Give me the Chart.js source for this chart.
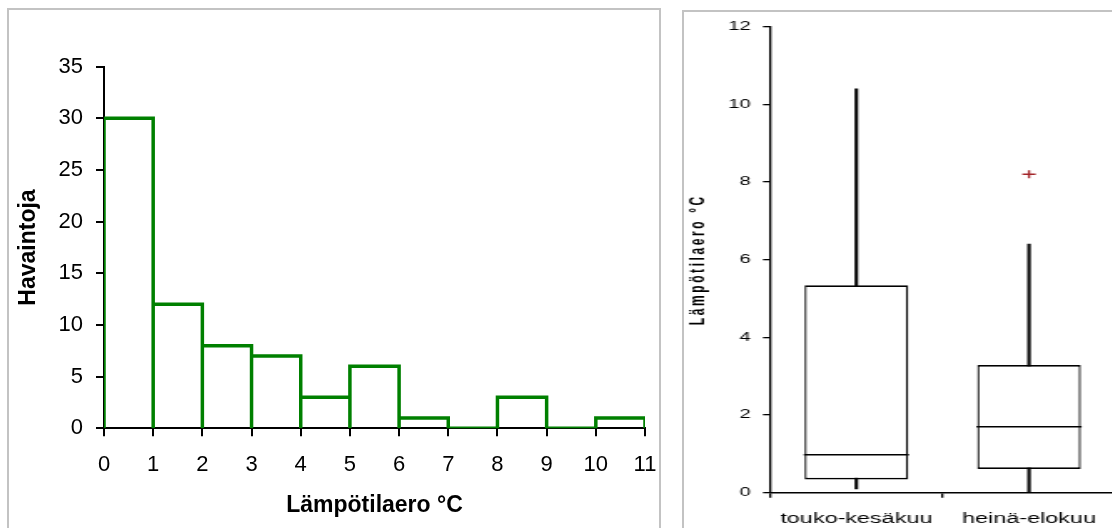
<!DOCTYPE html>
<html>
<head>
<meta charset="utf-8">
<script src="https://cdn.jsdelivr.net/npm/chart.js@4.4.0/dist/chart.umd.min.js"></script>
<style>
    html, body { margin: 0; padding: 0; background: #fff; }
    body { width: 1112px; height: 528px; overflow: hidden; position: relative; }
    .panel { position: absolute; border: 2px solid #c3c3c3; background: #fff; }
    #leftPanel { left: 7px; top: 8px; width: 650px; height: 540px; }
    #rightPanel { left: 682px; top: 10px; width: 460px; height: 540px; }
    #leftWrap { position: absolute; left: 9px; top: 10px; }
    /* the boxplot in the original is stretched sideways */
    #rightWrap { position: absolute; left: 684px; top: 12px; transform-origin: 0 0; transform: scaleX(1.67); }
</style>
</head>
<body>
<div class="panel" id="leftPanel"></div>
<div class="panel" id="rightPanel"></div>
<div id="leftWrap"><canvas id="histChart" width="650" height="518"></canvas></div>
<div id="rightWrap"><canvas id="boxChart" width="262" height="516"></canvas></div>

<script>
// Histogram data
const binEdges = [0, 1, 2, 3, 4, 5, 6, 7, 8, 9, 10, 11];
const counts = [30, 12, 8, 7, 3, 6, 1, 0, 3, 0, 1];
const countTicks = [0, 5, 10, 15, 20, 25, 30, 35];

// Boxplot data
const periods = ['touko-kesäkuu', 'heinä-elokuu'];
const whiskerLow = [0.1, 0.0];
const q1 = [0.34, 0.61];
const median = [0.98, 1.70];
const q3 = [5.34, 3.29];
const whiskerHigh = [10.4, 6.4];
const outliers = [null, 8.2];
const diffTicks = [0, 2, 4, 6, 8, 10, 12];

Chart.defaults.font.family = '"Liberation Sans", Arial, sans-serif';
Chart.defaults.color = '#000';

// Build the outline of each histogram bin (left edge, top, right edge)
const outline = [];
counts.forEach(function(c, i) {
    const pts = [
        { x: binEdges[i], y: 0 },
        { x: binEdges[i], y: c },
        { x: binEdges[i + 1], y: c },
        { x: binEdges[i + 1], y: 0 }
    ];
    pts.forEach(function(p) {
        const last = outline[outline.length - 1];
        if (!last || last.x !== p.x || last.y !== p.y) outline.push(p);
    });
});

new Chart(document.getElementById('histChart'), {
    type: 'line',
    data: {
        datasets: [{
            data: outline,
            borderColor: '#008000',
            borderWidth: 3.5,
            borderJoinStyle: 'miter',
            pointRadius: 0,
            tension: 0,
            fill: false
        }]
    },
    options: {
        responsive: false,
        animation: false,
        devicePixelRatio: 1,
        layout: { autoPadding: false, padding: { left: 0, right: 14, top: 56.7, bottom: 0 } },
        plugins: { legend: { display: false }, tooltip: { enabled: false } },
        scales: {
            x: {
                type: 'linear',
                min: 0,
                max: 11,
                afterBuildTicks: function(s) { s.ticks = binEdges.map(v => ({ value: v })); },
                afterFit: function(s) {
                    s.height = 99.7;
                    s.paddingLeft = 0;
                    s.paddingRight = 0;
                },
                grid: { drawOnChartArea: false, tickLength: 8, color: '#000', lineWidth: 2 },
                border: { color: '#000', width: 2 },
                ticks: { font: { size: 22 }, color: '#000', padding: 15, maxRotation: 0, autoSkip: false },
                title: {
                    display: true,
                    text: 'Lämpötilaero °C',
                    font: { size: 23, weight: 'bold' },
                    color: '#000',
                    padding: { top: 0, bottom: 8.5 }
                }
            },
            y: {
                min: 0,
                max: 35,
                afterBuildTicks: function(s) { s.ticks = countTicks.map(v => ({ value: v })); },
                afterFit: function(s) { s.width = 95; },
                grid: { drawOnChartArea: false, tickLength: 8, color: '#000', lineWidth: 2 },
                border: { color: '#000', width: 2 },
                ticks: { font: { size: 22 }, color: '#000', padding: 13 },
                title: {
                    display: true,
                    text: 'Havaintoja',
                    font: { size: 23, weight: 'bold' },
                    color: '#000',
                    padding: { top: 5.5, bottom: 0 }
                }
            }
        }
    }
});

new Chart(document.getElementById('boxChart'), {
    type: 'bar',
    data: {
        labels: periods,
        datasets: [
            {
                type: 'line',
                data: outliers,
                showLine: false,
                pointStyle: 'cross',
                pointRadius: 4,
                pointBorderColor: '#a3262a',
                pointBorderWidth: 1.3,
                order: 0
            },
            {
                type: 'line',
                data: median,
                showLine: false,
                pointStyle: 'line',
                pointRadius: 31.5,
                pointBorderColor: '#000',
                pointBorderWidth: 1.5,
                order: 1
            },
            {
                data: periods.map((p, i) => [q1[i], q3[i]]),
                backgroundColor: '#fff',
                borderColor: '#000',
                borderWidth: { top: 1.7, bottom: 1.7, left: 1.3, right: 1.3 },
                borderSkipped: false,
                barPercentage: 0.6,
                categoryPercentage: 1,
                grouped: false,
                order: 2
            },
            {
                data: periods.map((p, i) => [whiskerLow[i], whiskerHigh[i]]),
                backgroundColor: '#000',
                borderWidth: 0,
                barThickness: 1.4,
                grouped: false,
                order: 3
            }
        ]
    },
    options: {
        responsive: false,
        animation: false,
        devicePixelRatio: 1,
        layout: { autoPadding: false, padding: { left: 0, right: 3.7, top: 13, bottom: 0 } },
        plugins: { legend: { display: false }, tooltip: { enabled: false } },
        scales: {
            x: {
                type: 'category',
                offset: true,
                afterFit: function(s) { s.height = 35.3; },
                grid: { offset: true, drawOnChartArea: false, tickLength: 5, color: '#000', lineWidth: 1.3 },
                border: { color: '#000', width: 1.6 },
                ticks: { font: { size: 14 }, color: '#000', padding: 13, maxRotation: 0, autoSkip: false }
            },
            y: {
                min: 0,
                max: 12,
                afterBuildTicks: function(s) { s.ticks = diffTicks.map(v => ({ value: v })); },
                afterFit: function(s) {
                    s.width = 51.5;
                    // the axis title is spaced out in the original
                    if (!s._spacedTitle) {
                        const drawTitle = s.drawTitle.bind(s);
                        s.drawTitle = function() {
                            const prev = s.ctx.letterSpacing;
                            s.ctx.letterSpacing = '2.6px';
                            drawTitle();
                            s.ctx.letterSpacing = prev;
                        };
                        s._spacedTitle = true;
                    }
                },
                grid: { drawOnChartArea: false, tickLength: 4.2, color: '#000', lineWidth: 1.3 },
                border: { color: '#000', width: 1.3 },
                ticks: { font: { size: 12 }, color: '#000', padding: 7.5 },
                title: {
                    display: true,
                    text: 'Lämpötilaero °C',
                    font: { size: 12, weight: 'bold' },
                    color: '#000',
                    padding: { top: 1, bottom: 0 }
                }
            }
        }
    }
});
</script>
</body>
</html>
